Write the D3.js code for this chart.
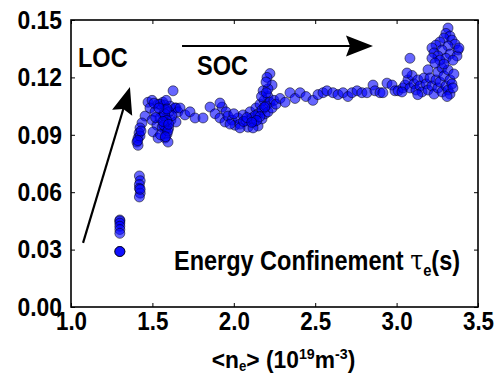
<!DOCTYPE html>
<html>
<head>
<meta charset="utf-8">
<script src="https://cdn.jsdelivr.net/npm/d3@7"></script>
<style>
  body { margin: 0; background: #fff; }
  text { font-family: "Liberation Sans", Arial, sans-serif; font-weight: bold; fill: #000; }
</style>
</head>
<body>
<div id="chart"></div>
<script>
// line-averaged density <n_e> (1e19 m^-3)
const neValues = [
  1.30, 1.30, 1.30, 1.30, 1.30, 1.30, 1.30, 1.30, 1.30,
  1.42, 1.425, 1.42, 1.42, 1.425, 1.42, 1.425,
  1.455, 1.436, 1.424, 1.418, 1.412, 1.405, 1.412, 1.424, 1.43, 1.41,
  1.473, 1.498, 1.535, 1.565, 1.608, 1.645, 1.627, 1.572, 1.578, 1.566, 1.584, 1.572, 1.59, 1.578,
  1.59, 1.578, 1.596, 1.584, 1.602, 1.614, 1.485, 1.516, 1.498, 1.528, 1.504, 1.535, 1.547, 1.639,
  1.657, 1.67, 1.645, 1.547, 1.56, 1.55, 1.52, 1.60, 1.62, 1.585,
  1.575, 1.588, 1.57, 1.595, 1.58, 1.565, 1.59, 1.60, 1.51, 1.54,
  1.70, 1.731, 1.762, 1.811, 1.854, 1.885, 1.928, 1.952,
  1.915, 1.946, 1.964, 1.989, 2.007, 2.026, 2.038, 2.057, 2.075, 2.087, 2.10, 2.112, 2.124, 2.136,
  2.149, 2.149, 2.161, 2.173, 2.173, 2.186, 2.192, 2.198, 2.21, 2.21, 2.222, 2.235, 2.247, 2.259,
  2.118, 2.038, 1.977, 2.222, 2.204, 2.235, 2.18, 2.21, 2.198, 1.915, 2.00, 2.06, 2.13, 2.17,
  2.16, 2.19, 2.14, 2.20, 2.08, 2.11,
  2.284, 2.315, 2.345, 2.376, 2.407, 2.443, 2.486, 2.517, 2.548, 2.572, 2.609, 2.64, 2.671, 2.701,
  2.726, 2.757, 2.787, 2.818, 2.855, 2.867, 2.898, 2.916, 2.941, 2.972, 2.99, 3.009, 3.039,
  3.052, 3.07, 3.082, 3.095, 3.107, 3.119, 3.131, 3.144, 3.156, 3.168, 3.181, 3.193, 3.193, 3.205,
  3.217, 3.23, 3.242, 3.254, 3.254, 3.266, 3.279, 3.279, 3.291, 3.303, 3.316, 3.316, 3.328, 3.328,
  3.34, 3.346, 3.352, 3.31, 3.13, 3.082, 3.064, 3.033,
  3.316, 3.303, 3.328, 3.291, 3.34, 3.266, 3.359, 3.316, 3.242, 3.217, 3.279, 3.377, 3.23, 3.328,
  3.254, 3.303, 3.371, 3.217, 3.266, 3.346, 3.236, 3.291, 3.383
];

// energy confinement time tau_e (s)
const tauValues = [
  0.029, 0.029, 0.029, 0.0455, 0.045, 0.0438, 0.0422, 0.0405, 0.0385,
  0.0685, 0.066, 0.064, 0.062, 0.0595, 0.0575, 0.0615,
  0.0998, 0.0962, 0.0936, 0.0909, 0.0883, 0.0862, 0.0845, 0.0894, 0.092, 0.087,
  0.107, 0.108, 0.106, 0.107, 0.105, 0.104, 0.113, 0.1056, 0.103, 0.1004, 0.0988, 0.0967, 0.0946, 0.0925,
  0.0904, 0.0883, 0.0862, 0.0936, 0.102, 0.0977, 0.104, 0.102, 0.0977, 0.095, 0.0915, 0.0883, 0.0988, 0.104,
  0.102, 0.104, 0.0967, 0.106, 0.094, 0.090, 0.099, 0.0935, 0.100, 0.108,
  0.101, 0.0975, 0.095, 0.092, 0.089, 0.097, 0.1035, 0.0955, 0.1065, 0.104,
  0.1004, 0.102, 0.0988, 0.0988, 0.1045, 0.101, 0.1045, 0.102,
  0.0988, 0.0967, 0.0998, 0.0977, 0.095, 0.0988, 0.0956, 0.1004, 0.0972, 0.094, 0.102, 0.0988, 0.0967, 0.104,
  0.101, 0.0946, 0.106, 0.103, 0.0983, 0.108, 0.101, 0.105, 0.110, 0.102, 0.107, 0.104, 0.108, 0.106,
  0.0936, 0.0936, 0.0956, 0.122, 0.120, 0.116, 0.113, 0.114, 0.1176, 0.1066, 0.101, 0.097, 0.100, 0.110,
  0.0995, 0.1045, 0.0975, 0.112, 0.099, 0.0965,
  0.109, 0.107, 0.112, 0.109, 0.112, 0.110, 0.108, 0.111, 0.112, 0.113, 0.112, 0.111, 0.112, 0.110,
  0.112, 0.113, 0.112, 0.112, 0.116, 0.113, 0.112, 0.112, 0.117, 0.116, 0.113, 0.113, 0.1145,
  0.116, 0.1187, 0.1145, 0.121, 0.1166, 0.1134, 0.1187, 0.1155, 0.1124, 0.1197, 0.1166, 0.124, 0.1134, 0.1197,
  0.1155, 0.1113, 0.1187, 0.1228, 0.1145, 0.1176, 0.125, 0.1124, 0.1208, 0.1155, 0.1239, 0.1134, 0.1187, 0.1113,
  0.1166, 0.1145, 0.1218, 0.110, 0.111, 0.130, 0.1223, 0.1124,
  0.1458, 0.143, 0.1416, 0.1406, 0.1395, 0.1385, 0.1374, 0.1364, 0.1369, 0.1354, 0.1343, 0.1343, 0.1328, 0.1322,
  0.1312, 0.130, 0.1312, 0.130, 0.129, 0.129, 0.1275, 0.127, 0.1354
];

const xTicks = [1.0, 1.5, 2.0, 2.5, 3.0, 3.5];
const yTicks = [0.00, 0.03, 0.06, 0.09, 0.12, 0.15];

const width = 503;
const height = 375;
const margin = { top: 20, right: 25, bottom: 68, left: 71 };
const innerW = width - margin.left - margin.right;
const innerH = height - margin.top - margin.bottom;

// the original lettering is a narrow bold face; squeeze text horizontally around its anchor
const squeeze = (sel, sx) =>
  sel.attr("transform", function () {
    const x0 = +this.getAttribute("x") || 0;
    return `translate(${x0},0) scale(${sx},1) translate(${-x0},0)`;
  });

const svg = d3
  .select("#chart")
  .append("svg")
  .attr("width", width)
  .attr("height", height);

const g = svg.append("g").attr("transform", `translate(${margin.left},${margin.top})`);

const x = d3.scaleLinear().domain([1.0, 3.5]).range([0, innerW]);
const y = d3.scaleLinear().domain([0, 0.15]).range([innerH, 0]);

const points = neValues.map((d, i) => [d, tauValues[i]]);

g.append("g")
  .selectAll("circle")
  .data(points)
  .enter()
  .append("circle")
  .attr("cx", (d) => x(d[0]))
  .attr("cy", (d) => y(d[1]))
  .attr("r", 5)
  .attr("fill", "#0000ff")
  .attr("fill-opacity", 0.6)
  .attr("stroke", "#000")
  .attr("stroke-opacity", 0.65)
  .attr("stroke-width", 0.8);

// axes, ticks pointing inwards on all four sides
const xAxis = d3.axisBottom(x).tickValues(xTicks).tickFormat(d3.format(".1f"))
  .tickSizeInner(-4).tickSizeOuter(0).tickPadding(5);
const yAxis = d3.axisLeft(y).tickValues(yTicks).tickFormat(d3.format(".2f"))
  .tickSizeInner(-4).tickSizeOuter(0).tickPadding(9);

const gx = g.append("g").attr("transform", `translate(0,${innerH})`).call(xAxis);
const gy = g.append("g").call(yAxis);
const gTop = g.append("g").call(d3.axisTop(x).tickValues(xTicks).tickFormat("").tickSizeInner(-4).tickSizeOuter(0));
const gRight = g.append("g").attr("transform", `translate(${innerW},0)`)
  .call(d3.axisRight(y).tickValues(yTicks).tickFormat("").tickSizeInner(-4).tickSizeOuter(0));

[gx, gy, gTop, gRight].forEach((a) => {
  a.select(".domain").remove();
  a.selectAll(".tick line").attr("stroke", "#000").attr("stroke-width", 1);
  a.selectAll(".tick text").style("font-size", "26px").attr("fill", "#000");
});
squeeze(gx.selectAll(".tick text"), 0.86);
squeeze(gy.selectAll(".tick text"), 0.88);

g.append("rect")
  .attr("width", innerW)
  .attr("height", innerH)
  .attr("fill", "none")
  .attr("stroke", "#000")
  .attr("stroke-width", 1.6);

// annotations
const arrows = [
  { from: [1.074, 0.0335], to: [1.362, 0.115] },
  { from: [1.682, 0.1364], to: [2.855, 0.1364] },
];

arrows.forEach((a) => {
  const x1 = x(a.from[0]), y1 = y(a.from[1]);
  const x2 = x(a.to[0]), y2 = y(a.to[1]);
  const len = Math.hypot(x2 - x1, y2 - y1);
  const ux = (x2 - x1) / len, uy = (y2 - y1) / len;
  const px = -uy, py = ux;
  const hl = 27, hw = 10.5, notch = 4;
  const bx = x2 - ux * hl, by = y2 - uy * hl;
  g.append("line")
    .attr("x1", x1).attr("y1", y1)
    .attr("x2", bx + ux * notch).attr("y2", by + uy * notch)
    .attr("stroke", "#000").attr("stroke-width", 2.2);
  g.append("path")
    .attr("d", `M${x2},${y2}L${bx + px * hw},${by + py * hw}L${bx + ux * notch},${by + uy * notch}L${bx - px * hw},${by - py * hw}Z`)
    .attr("fill", "#000");
});

squeeze(g.append("text").attr("x", 7).attr("y", 47).style("font-size", "28px").text("LOC"), 0.84);
squeeze(g.append("text").attr("x", 126).attr("y", 55).style("font-size", "28px").text("SOC"), 0.84);

const lbl = g.append("text").attr("x", 103).attr("y", 250).style("font-size", "27px");
lbl.append("tspan").text("Energy Confinement ");
lbl.append("tspan").style("font-family", "'DejaVu Serif', serif").style("font-weight", "normal").text("τ");
lbl.append("tspan").attr("dy", 6).style("font-size", "17px").text("e");
lbl.append("tspan").attr("dy", -6).text("(s)");
squeeze(lbl, 0.87);

const title = svg.append("text")
  .attr("x", margin.left + innerW / 2 + 9)
  .attr("y", 368)
  .attr("text-anchor", "middle")
  .style("font-size", "24px");
title.append("tspan").text("<n");
title.append("tspan").attr("dy", 3).style("font-size", "14px").text("e");
title.append("tspan").attr("dy", -3).text("> (10");
title.append("tspan").attr("dy", -9).style("font-size", "15px").text("19");
title.append("tspan").attr("dy", 9).text("m");
title.append("tspan").attr("dy", -9).style("font-size", "15px").text("-3");
title.append("tspan").attr("dy", 9).text(")");
squeeze(title, 0.95);
</script>
</body>
</html>
